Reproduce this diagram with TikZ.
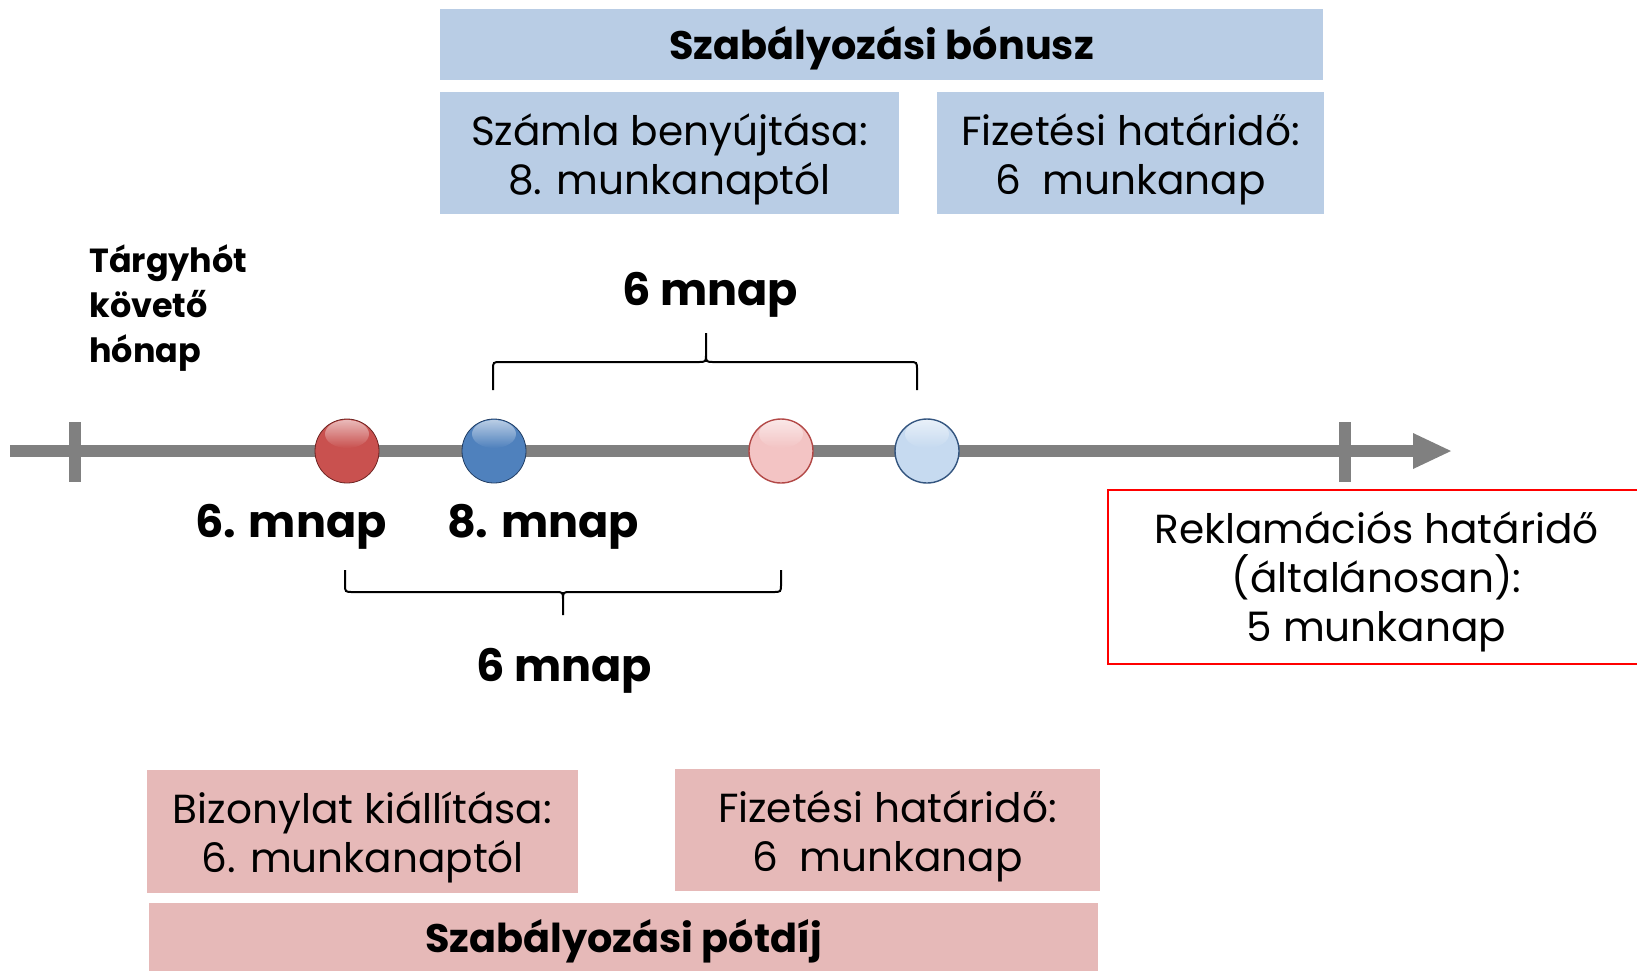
\documentclass[tikz,border=0pt]{standalone}
\usepackage{fontspec}
\setmainfont{Poppins}
\usetikzlibrary{fadings}
\definecolor{boxblue}{HTML}{B9CDE5}
\definecolor{boxpink}{HTML}{E6B9B8}
\definecolor{axisgrey}{HTML}{808080}
\definecolor{redbox}{HTML}{FF0000}
\definecolor{sphred}{HTML}{C9514F}
\definecolor{sphredd}{HTML}{6E2422}
\definecolor{sphblue}{HTML}{4F81BD}
\definecolor{sphblued}{HTML}{213D63}
\definecolor{sphpink}{HTML}{F3C4C4}
\definecolor{sphpinkd}{HTML}{B24846}
\definecolor{sphlblue}{HTML}{C6DAF0}
\definecolor{sphlblued}{HTML}{34557F}
\pgfdeclareradialshading{shred}{\pgfpoint{0bp}{5bp}}{color(0bp)=(sphred); color(34bp)=(sphred); color(47bp)=(sphred!65!black); color(56bp)=(sphredd)}
\pgfdeclareradialshading{shblue}{\pgfpoint{0bp}{5bp}}{color(0bp)=(sphblue); color(34bp)=(sphblue); color(47bp)=(sphblue!65!black); color(56bp)=(sphblued)}
\pgfdeclareradialshading{shpink}{\pgfpoint{0bp}{5bp}}{color(0bp)=(sphpink); color(34bp)=(sphpink); color(47bp)=(sphpink!72!black); color(56bp)=(sphpinkd)}
\pgfdeclareradialshading{shlblue}{\pgfpoint{0bp}{5bp}}{color(0bp)=(sphlblue); color(34bp)=(sphlblue); color(47bp)=(sphlblue!72!black); color(56bp)=(sphlblued)}
\tikzset{
  boxfill/.style={fill=#1, draw=none, inner sep=0pt},
  regtext/.style={font=\fontsize{20.3}{24.5}\selectfont, align=center, inner sep=0pt},
  boldtext/.style={font=\bfseries\fontsize{19.9}{25}\selectfont, align=center, inner sep=0pt},
  mnaplabel/.style={font=\bfseries\fontsize{22.3}{25}\selectfont, inner sep=0pt},
  sphere/.style={circle, minimum size=32pt, inner sep=0pt, shading=#1},
  bracestyle/.style={draw=black, line width=1pt},
  axisline/.style={draw=axisgrey, line width=6pt},
  gloss/.style={fill=white, path fading=south, fill opacity=0.6}
}
\begin{document}
\begin{tikzpicture}[x=0.5pt, y=-0.5pt]
\useasboundingbox (0,0) rectangle (1637,970);
\clip (0,0) rectangle (1637,970);
% top blue boxes
\node[boxfill=boxblue, minimum width=441.5pt, minimum height=35.5pt] (bonus) at (881.5,44.5) {};
\node[boldtext] (bonustxt) at ([yshift=-2pt]bonus.center) {Szabályozási bónusz};
\node[boxfill=boxblue, minimum width=229.5pt, minimum height=61pt] (szamla) at (669.5,153) {};
\node[regtext] (szamlatxt) at ([yshift=-3pt]szamla.center) {Számla benyújtása:\\8. munkanaptól};
\node[boxfill=boxblue, minimum width=193.5pt, minimum height=61pt] (fiz1) at (1130.5,153) {};
\node[regtext] (fiz1txt) at ([yshift=-3pt]fiz1.center) {Fizetési határidő:\\6~ munkanap};
% left label
\node[font=\bfseries\fontsize{16.7}{22.5}\selectfont, align=left, anchor=west, inner sep=0pt] (targy) at (89,308) {Tárgyhót\\követő\\hónap};
% axis
\coordinate (tstart) at (10,451);
\coordinate (tend) at (1451,451);
\draw[axisline] (tstart) -- ([xshift=-17pt]tend);
\fill[axisgrey] ([xshift=-19pt,yshift=9pt]tend) -- (tend) -- ([xshift=-19pt,yshift=-9pt]tend) -- cycle;
\coordinate (tick1) at (75,422);
\coordinate (tick2) at (1345,422);
\draw[axisline] (tick1) -- ++(0,60);
\draw[axisline] (tick2) -- ++(0,60);
% spheres
\node[sphere=shred] (s1) at (347,451) {};
\node[sphere=shblue] (s2) at (494,451) {};
\node[sphere=shpink] (s3) at (781,451) {};
\node[sphere=shlblue] (s4) at (927,451) {};
\draw[sphredd, line width=0.4pt] (s1) circle (32);
\draw[sphblued, line width=0.4pt] (s2) circle (32);
\draw[sphpinkd, line width=0.7pt] (s3) circle (32);
\draw[sphlblued, line width=0.7pt] (s4) circle (32);
\foreach \s in {s1,s2,s3,s4}{
  \fill[gloss] ([yshift=8.5pt]\s.center) ellipse (22 and 14);
}
% labels
\node[mnaplabel] (m6) at (291,527) {6. mnap};
\node[mnaplabel] (m8) at (543,527) {8. mnap};
\node[mnaplabel] (top6) at (710,295) {6 mnap};
\node[mnaplabel] (bot6) at (564,671) {6 mnap};
% top brace
\draw[bracestyle] (493,390) -- (493,370) .. controls (493,362) .. (501,362) -- (698,362) .. controls (706,362) .. (706,354) -- (706,333) -- (706,354) .. controls (706,362) .. (714,362) -- (909,362) .. controls (917,362) .. (917,370) -- (917,390);
% bottom brace
\draw[bracestyle] (345,570) -- (345,584) .. controls (345,592) .. (353,592) -- (555,592) .. controls (563,592) .. (563,600) -- (563,615) -- (563,600) .. controls (563,592) .. (571,592) -- (773,592) .. controls (781,592) .. (781,584) -- (781,570);
% reklamacios box
\node[draw=redbox, line width=1pt, fill=white, inner sep=0pt, minimum width=268.5pt, minimum height=87pt] (rekl) at (1376.5,577) {};
\node[regtext] (rekltxt) at ([yshift=-2.5pt]rekl.center) {Reklamációs határidő\\(általánosan):\\5 munkanap};
% bottom pink boxes
\node[boxfill=boxpink, minimum width=215.5pt, minimum height=61.5pt] (bizony) at (362.5,831.5) {};
\node[regtext] (bizonytxt) at ([yshift=-3pt]bizony.center) {Bizonylat kiállítása:\\6. munkanaptól};
\node[boxfill=boxpink, minimum width=212.5pt, minimum height=61pt] (fiz2) at (887.5,830) {};
\node[regtext] (fiz2txt) at ([yshift=-3pt]fiz2.center) {Fizetési határidő:\\6~ munkanap};
\node[boxfill=boxpink, minimum width=474.5pt, minimum height=36pt] (potdij) at (623.5,939) {};
\node[boldtext] (potdijtxt) at ([yshift=-1pt]potdij.center) {Szabályozási pótdíj};
\end{tikzpicture}
\end{document}
